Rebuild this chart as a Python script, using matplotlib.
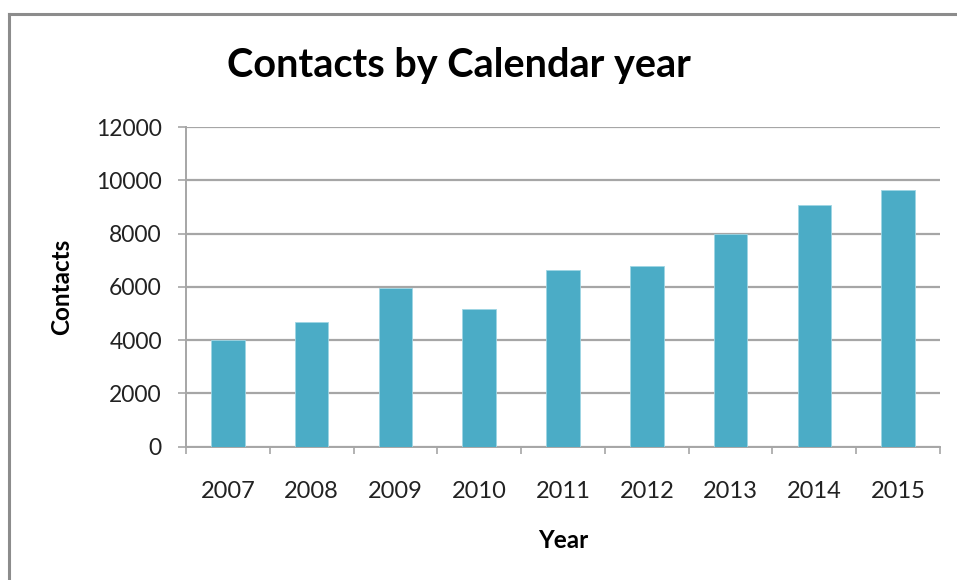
import matplotlib
matplotlib.use("Agg")
import matplotlib.pyplot as plt
import numpy as np

years = ["2007", "2008", "2009", "2010", "2011", "2012", "2013", "2014", "2015"]
contacts = [4000, 4690, 5940, 5175, 6615, 6800, 8000, 9060, 9625]
y_ticks = [0, 2000, 4000, 6000, 8000, 10000, 12000]

W, H = 957, 580
fig = plt.figure(figsize=(W / 100, H / 100), dpi=100)
fig.patch.set_facecolor("white")

FONT = "Lato"
grid_col = "#a6a6a6"
bar_col = "#4bacc6"

# outer chart frame (top and left visible)
fig.add_artist(plt.Line2D([9 / W, 9 / W], [0, 1 - 14 / H], color="#8c8c8c", lw=2.2,
                          transform=fig.transFigure))
fig.add_artist(plt.Line2D([9 / W, 1], [1 - 14 / H, 1 - 14 / H], color="#8c8c8c", lw=2.2,
                          transform=fig.transFigure))

left, right = 186 / W, 940 / W
top, bottom = 1 - 127 / H, 1 - 446.7 / H
ax = fig.add_axes([left, bottom, right - left, top - bottom])

x = np.arange(len(years))
ax.bar(x, contacts, width=0.4, color=bar_col, edgecolor="#9fd6e4", linewidth=0.6, zorder=3)

ax.set_xlim(-0.5, len(years) - 0.5)
ax.set_ylim(0, 12000)
ax.set_yticks(y_ticks)
ax.set_yticklabels([str(v) for v in y_ticks], fontsize=16.5, family=FONT, color="#222222")
ax.set_xticks(x)
ax.set_xticklabels(years, fontsize=17, family=FONT, color="#222222")
ax.tick_params(axis="x", length=0, pad=25)
ax.set_xticks(np.arange(len(years) + 1) - 0.5, minor=True)
ax.tick_params(axis="x", which="minor", length=5, color=grid_col, width=1.2)
ax.tick_params(axis="y", length=5.8, color=grid_col, width=1.2, pad=11.5)

ax.grid(axis="y", color=grid_col, lw=1.6, zorder=0)
for s in ["top", "right"]:
    ax.spines[s].set_visible(False)
for s in ["left", "bottom"]:
    ax.spines[s].set_color(grid_col)
    ax.spines[s].set_linewidth(1.4)

fig.text(459 / W, 1 - 66 / H, "Contacts by Calendar year", ha="center", va="center",
         fontsize=28.5, fontweight="bold", family=FONT, color="black")
fig.text(563 / W, 1 - 541 / H, "Year", ha="center", va="center",
         fontsize=17.5, fontweight="bold", family=FONT, color="black")
fig.text(62 / W, 1 - 287 / H, "Contacts", ha="center", va="center", rotation=90,
         fontsize=17.5, fontweight="bold", family=FONT, color="black")

fig.savefig("out.png", dpi=100)
